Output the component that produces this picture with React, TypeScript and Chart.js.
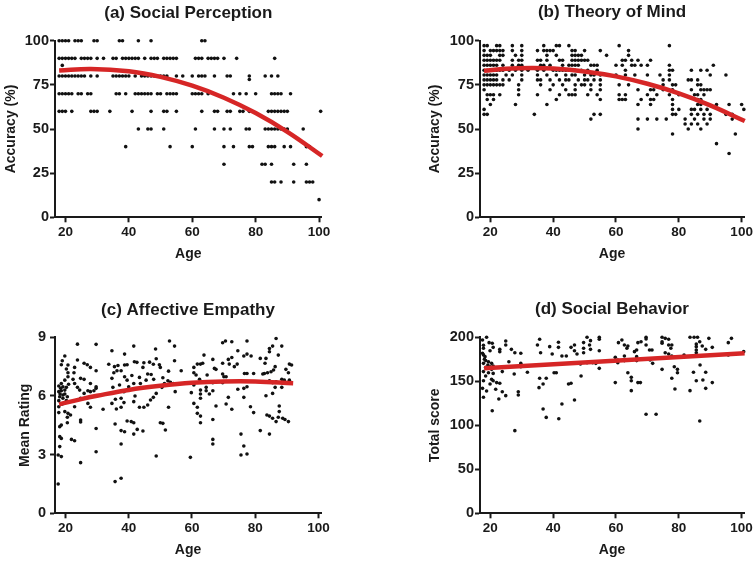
import React, { useEffect, useRef } from "react";
import { Chart, registerables } from "chart.js";
Chart.register(...registerables);

const FONT = "'Liberation Sans', Arial, Helvetica, sans-serif";
const TEXT = "#1a1a1a";
const RED = "rgb(214,38,38)";
const AGE_TICKS = [20, 40, 60, 80, 100];

// ---------- (a) Social Perception: ages at each accuracy level ----------
const sp100 = [18, 19, 20, 21, 23, 24, 25, 29, 30, 37, 38, 43, 47, 63, 64];
const sp90 = [18, 19, 20, 21, 22, 23, 25, 26, 27, 28, 30, 32, 35, 36, 38, 39, 40, 41, 42, 43, 45, 47, 48, 49, 51, 52, 53, 54, 55, 61, 62, 63, 65, 66, 67, 68, 70, 74, 86];
const sp80 = [18, 19, 20, 21, 22, 23, 24, 25, 26, 28, 30, 35, 36, 37, 38, 39, 40, 42, 44, 45, 46, 47, 48, 49, 50, 51, 52, 55, 57, 60, 62, 63, 64, 67, 71, 72, 78, 83, 85, 87];
const sp70 = [18, 19, 20, 21, 22, 24, 25, 27, 28, 36, 37, 39, 42, 43, 44, 45, 46, 47, 49, 50, 52, 53, 54, 55, 60, 61, 62, 63, 65, 73, 75, 77, 80, 85, 86, 87, 88, 91];
const sp60 = [18, 19, 20, 22, 28, 29, 30, 34, 41, 47, 51, 52, 55, 63, 67, 68, 71, 72, 75, 76, 78, 84, 85, 86, 87, 88, 89, 90, 100.5];
const sp50 = [43, 46, 47, 51, 61, 67, 70, 72, 77, 78, 83, 84, 85, 86, 87, 88, 89, 90, 95];
const sp40 = [39, 53, 60, 70, 73, 78, 79, 84, 85, 86, 89, 91, 96, 97];
const sp30 = [70, 82, 83, 85, 92, 96];
const sp20 = [85, 86, 88, 92, 96, 97, 98];
const sp10 = [100];
const spExtra: [number, number][] = [[19, 86], [78, 78]];
const spFitAge = [18, 28, 40, 50, 60, 70, 80, 90, 101];
const spFitVal = [83.1, 84, 82.7, 79.5, 74.5, 67.7, 59, 48.4, 34.7];

// ---------- (b) Theory of Mind: ages at each accuracy level ----------
const tom972 = [18, 19, 22, 23, 27, 30, 37, 41, 42, 45, 61, 77];
const tom944 = [18, 20, 21, 22, 23, 24, 27, 30, 35, 37, 38, 39, 40, 46, 47, 50, 55, 64];
const tom917 = [18, 19, 20, 23, 24, 28, 30, 38, 41, 46, 47, 48, 49, 57, 64];
const tom889 = [18, 19, 20, 21, 22, 23, 27, 29, 30, 35, 36, 38, 42, 43, 46, 47, 48, 49, 50, 51, 62, 63, 65, 67, 71];
const tom861 = [18, 19, 20, 21, 22, 24, 27, 29, 30, 36, 37, 39, 43, 45, 46, 47, 48, 52, 53, 54, 60, 62, 65, 66, 68, 70, 77, 91];
const tom833 = [18, 19, 20, 21, 22, 23, 24, 26, 28, 30, 32, 35, 37, 40, 41, 42, 43, 44, 45, 47, 49, 51, 54, 63, 77, 78, 84, 87, 89];
const tom806 = [18, 19, 20, 21, 22, 25, 27, 30, 35, 38, 41, 44, 46, 47, 50, 52, 53, 55, 60, 63, 66, 70, 74, 77, 90, 95];
const tom778 = [18, 19, 20, 21, 22, 24, 26, 30, 35, 36, 39, 42, 44, 45, 48, 50, 51, 53, 55, 75, 77, 83, 84, 86];
const tom750 = [18, 19, 20, 21, 22, 23, 24, 29, 36, 40, 43, 47, 49, 50, 52, 55, 61, 64, 75, 78, 79, 86, 87];
const tom722 = [18, 29, 39, 44, 47, 52, 55, 67, 71, 72, 75, 78, 84, 87, 88, 89, 90];
const tom694 = [19, 20, 21, 23, 29, 35, 42, 45, 46, 47, 51, 54, 61, 63, 70, 73, 77, 80, 85, 86, 88];
const tom667 = [19, 21, 41, 55, 61, 62, 63, 68, 71, 72, 78, 86, 87];
const tom639 = [20, 28, 38, 67, 71, 78, 86, 87, 92, 96, 100];
const tom611 = [18, 78, 80, 84, 85, 87, 89, 100.7];
const tom583 = [18, 19, 34, 53, 55, 78, 79, 84, 86, 88, 90, 95, 97];
const tom556 = [52, 67, 70, 73, 76, 82, 85, 88, 90, 97];
const tom528 = [82, 84, 86, 89];
const tom500 = [67, 83, 87];
const tom472 = [78, 98];
const tom417 = [92];
const tom361 = [96];
const tomFitAge = [18, 25, 33, 40, 50, 60, 70, 80, 90, 101];
const tomFitVal = [83.0, 84.1, 84.5, 84.2, 82.6, 79.8, 75.6, 70.2, 63.4, 54.5];

// ---------- (c) Affective Empathy: [age, mean rating] ----------
const aePoints: [number, number][] = [
  [23.8, 8.65], [29.7, 8.64], [34.7, 8.31], [41.6, 8.55], [48.5, 8.4], [52.9, 8.81], [54.5, 8.55], [38.7, 8.14],
  [19.8, 8.04], [19.0, 7.8], [18.7, 7.6], [20.8, 7.58], [23.8, 7.84], [25.9, 7.67], [26.9, 7.6], [27.9, 7.46],
  [29.7, 7.29], [33.7, 7.62], [35.5, 7.5], [36.6, 7.56], [35.3, 7.19], [36.3, 7.29], [38.7, 7.58], [39.5, 7.6],
  [41.8, 7.75], [42.6, 7.72], [44.8, 7.7], [46.6, 7.73], [47.8, 7.62], [48.7, 7.9], [49.7, 7.6], [50.0, 7.46],
  [44.5, 7.46], [46.0, 7.12], [47.1, 7.1], [47.9, 6.85], [45.5, 6.81], [43.4, 6.95], [41.0, 7.05], [43.7, 6.64],
  [41.6, 6.64], [39.5, 6.81], [38.7, 6.98], [37.6, 7.29], [34.7, 6.9], [35.0, 6.44], [37.1, 6.56], [38.5, 6.22],
  [40.0, 6.47], [37.6, 5.88], [35.8, 5.83], [34.7, 5.62], [36.1, 5.33], [37.6, 5.42], [38.5, 5.66], [41.6, 5.71],
  [42.0, 6.0], [43.4, 5.42], [44.8, 5.42], [46.0, 5.54], [46.9, 5.79], [47.8, 5.93], [48.7, 6.13], [50.5, 6.44],
  [51.3, 6.64], [52.4, 6.78], [53.2, 6.7], [54.2, 6.64], [54.7, 6.22], [50.8, 6.93], [52.6, 7.27], [52.6, 5.42],
  [50.0, 4.63], [50.8, 4.6], [51.6, 4.26], [39.5, 4.72], [40.8, 4.69], [41.6, 4.63], [42.7, 4.29], [44.5, 4.21],
  [41.6, 4.05], [38.7, 4.17], [37.6, 4.23], [35.7, 4.57], [37.6, 3.54], [48.7, 2.93], [35.7, 1.62], [37.6, 1.79],
  [29.7, 4.34], [29.7, 3.15], [24.8, 2.59], [21.9, 3.78], [22.9, 3.71], [17.7, 1.5], [18.2, 3.41], [17.7, 2.98],
  [18.7, 2.9], [18.2, 3.92], [18.7, 3.83], [18.2, 4.43], [18.7, 4.51], [20.6, 4.63], [20.6, 4.91], [21.6, 5.03],
  [24.8, 4.77], [24.8, 4.67], [20.8, 5.11], [19.8, 5.2], [17.9, 5.15], [17.9, 5.45], [22.9, 5.45], [27.1, 5.62],
  [27.9, 5.42], [31.9, 5.32], [24.8, 5.88], [25.9, 6.13], [27.1, 6.27], [27.9, 6.22], [29.0, 6.27], [29.7, 6.39],
  [29.7, 6.47], [27.9, 6.64], [25.9, 6.85], [24.8, 6.9], [22.7, 7.19], [22.4, 6.85], [22.9, 6.64], [23.8, 6.44],
  [24.5, 6.3], [20.8, 6.98], [19.8, 6.81], [18.7, 6.64], [17.9, 6.51], [19.2, 6.47], [20.3, 6.44], [18.7, 6.27],
  [19.8, 6.1], [18.2, 5.96], [19.2, 5.88], [20.3, 5.76], [17.9, 5.76], [19.0, 5.59], [17.9, 6.22], [19.8, 6.3],
  [20.6, 5.96], [19.2, 6.05], [18.5, 6.39], [20.8, 7.19], [20.3, 7.38], [22.9, 7.46], [21.0, 6.6], [18.3, 6.1],
  [69.7, 8.72], [70.6, 8.81], [72.6, 8.77], [77.4, 8.81], [86.6, 8.94], [84.5, 8.43], [85.5, 8.55], [88.4, 8.55],
  [84.5, 8.26], [74.5, 8.31], [76.4, 8.04], [77.4, 8.14], [78.7, 8.04], [81.6, 7.92], [83.4, 7.92], [87.3, 8.09],
  [63.8, 8.09], [63.4, 7.67], [62.7, 7.63], [60.6, 7.46], [61.7, 7.63], [66.6, 7.87], [69.7, 7.67], [71.5, 7.87],
  [72.6, 7.97], [71.8, 7.63], [74.3, 7.63], [73.4, 7.5], [67.1, 7.41], [67.6, 7.36], [64.8, 7.07], [60.6, 7.19],
  [61.3, 7.07], [62.4, 6.85], [69.7, 7.12], [70.1, 6.98], [70.8, 6.98], [76.6, 7.15], [77.4, 7.15], [79.5, 7.15],
  [82.4, 7.12], [82.9, 7.15], [83.9, 7.19], [85.0, 7.24], [85.8, 7.33], [86.3, 7.5], [83.1, 7.67], [89.7, 7.36],
  [90.5, 7.19], [90.8, 7.63], [91.5, 7.58], [54.5, 7.8], [56.6, 7.29], [60.6, 6.64], [60.6, 6.56], [66.6, 6.68],
  [69.7, 6.68], [84.5, 6.78], [85.5, 6.68], [86.6, 6.73], [88.4, 6.85], [89.2, 6.81], [90.8, 6.81], [86.3, 6.44],
  [88.4, 6.44], [62.7, 6.3], [59.8, 6.17], [62.7, 6.1], [64.5, 6.44], [64.5, 6.27], [65.5, 6.1], [66.6, 6.27],
  [74.5, 6.34], [76.4, 6.39], [77.4, 6.47], [71.5, 5.93], [62.7, 5.88], [76.4, 5.93], [83.4, 6.01], [85.5, 6.13],
  [60.6, 5.62], [61.7, 5.42], [61.7, 5.11], [62.7, 4.97], [62.7, 4.63], [67.6, 5.49], [70.8, 5.59], [72.6, 5.32],
  [66.6, 4.8], [78.5, 5.45], [79.5, 5.15], [83.7, 5.03], [84.5, 4.97], [85.5, 4.86], [86.6, 4.69], [87.3, 4.91],
  [87.6, 5.49], [87.6, 5.2], [88.7, 4.86], [89.4, 4.8], [90.5, 4.69], [81.6, 4.23], [84.5, 4.05], [66.6, 3.78],
  [66.6, 3.54], [75.5, 4.05], [76.4, 3.44], [75.5, 2.98], [77.4, 3.03], [59.5, 2.86],
];
const aeFitAge = [18, 25, 30, 40, 50, 60, 70, 80, 92];
const aeFitVal = [5.57, 5.84, 6.01, 6.31, 6.52, 6.67, 6.74, 6.74, 6.65];

// ---------- (d) Social Behavior: [age, total score] ----------
const sbPoints: [number, number][] = [
  [18.8, 200], [17.5, 197], [17.8, 191], [17.8, 187.5], [17.5, 181.8], [17.8, 180], [18.3, 178], [18.1, 175],
  [18.5, 173.5], [17.8, 170.4], [19.2, 168.5], [19.4, 172.3], [20.4, 170.4], [19.9, 166.6], [18.5, 165.9], [20.4, 163.6],
  [20.9, 167.4], [17.8, 161], [19.4, 159.8], [20.9, 159], [18.5, 156], [20.4, 152.2], [17.8, 150.7], [20.9, 150.7],
  [22.0, 148.5], [23.0, 147.7], [19.9, 147], [17.5, 142], [21.7, 140.9], [18.8, 139], [23.8, 138.2], [17.8, 131.8],
  [22.7, 129.9], [24.9, 133.7], [20.6, 116.6], [27.8, 93.9], [19.6, 193.9], [20.6, 193.2], [20.9, 188.6], [19.9, 184.8],
  [23.0, 186.3], [23.0, 183.7], [24.9, 195.8], [24.9, 191.3], [26.7, 186.3], [27.8, 182.5], [29.7, 181.8], [25.9, 172.3],
  [23.8, 161], [27.6, 158.3], [29.7, 170.4], [29.7, 166.6], [31.8, 160.2], [28.9, 138.2], [28.9, 134.5], [35.0, 191.3],
  [35.7, 197.7], [36.0, 182.5], [35.7, 153.4], [35.5, 142.8], [36.8, 147], [37.8, 153.4], [36.8, 118.5], [37.8, 109],
  [38.9, 189.4], [39.7, 181], [41.7, 194.3], [41.7, 188.6], [42.8, 178.8], [40.3, 159.8], [41.0, 159.8], [42.8, 124.2],
  [41.8, 107.5], [44.9, 147], [45.7, 147.7], [44.2, 178.8], [45.7, 188.6], [46.8, 191.3], [46.8, 184.8], [47.6, 181],
  [46.8, 128.8], [48.7, 169.7], [48.9, 156], [49.7, 194], [49.7, 187.5], [49.7, 182.5], [50.8, 200], [51.9, 196.2],
  [51.6, 191.3], [51.9, 186.3], [50.8, 171.2], [52.6, 171.2], [53.6, 170.4], [54.7, 200], [54.7, 197.7], [54.7, 184.8],
  [54.7, 164.7], [59.8, 177.2], [59.8, 148.5], [60.8, 193.9], [61.9, 197], [60.6, 174.2], [60.6, 171.2], [62.7, 191.3],
  [63.8, 190.1], [63.5, 187.5], [62.7, 178.8], [62.7, 173.5], [63.8, 159.8], [64.9, 154.5], [64.9, 150.7], [64.9, 139.4],
  [65.9, 183.7], [66.6, 185.6], [66.6, 178], [66.6, 173.5], [67.0, 148.5], [67.8, 148.5], [67.0, 193.9], [68.0, 195],
  [69.6, 200], [69.6, 198], [69.6, 191.3], [70.7, 185.6], [71.5, 185.6], [70.9, 174.2], [71.7, 170.4], [69.6, 112.5],
  [72.8, 112.5], [74.7, 200], [74.7, 195], [74.7, 193.2], [75.7, 198.8], [76.8, 197.7], [76.8, 191.3], [77.8, 191.3],
  [77.5, 187.5], [75.7, 182.5], [76.8, 181], [77.8, 178.8], [74.7, 163.6], [78.6, 166.6], [79.6, 163.6], [79.6, 159.8],
  [77.8, 153.4], [78.8, 141.3], [81.7, 179.9], [83.6, 200], [84.9, 200], [86.0, 200], [85.6, 192.4], [85.6, 189.4],
  [85.6, 185.6], [85.6, 182.5], [86.7, 195], [87.5, 190.1], [88.6, 186.3], [89.6, 198.8], [90.7, 188.6], [86.8, 168.5],
  [84.7, 160.2], [88.6, 160.2], [85.6, 150.7], [87.7, 151.5], [90.7, 148.5], [88.6, 142], [83.6, 139.4], [86.7, 104.9],
  [95.8, 193.9], [96.8, 198.8], [95.8, 179.9], [100.7, 183.7],
];
const sbFitAge = [18, 101];
const sbFitVal = [164.8, 182.0];

type Pt = { x: number; y: number };
const rows = (levels: [number, number[]][]): Pt[] =>
  levels.flatMap(([v, ages]) => ages.map((a) => ({ x: a, y: v })));
const pairs = (p: [number, number][]): Pt[] => p.map(([x, y]) => ({ x, y }));
const zipXY = (xs: number[], ys: number[]): Pt[] => xs.map((x, i) => ({ x, y: ys[i] }));

type PanelCfg = {
  left: number; top: number; width: number; height: number;
  area: { left: number; right: number; top: number; bottom: number };
  title: string; titleCenterY: number;
  yTitle: string; yTitleCenterX: number; yTicks: number[]; yTickPad: number;
  xTitleCenterY: number;
  points: Pt[]; fit: Pt[];
};

const panels: PanelCfg[] = [
  {
    left: 0, top: 0, width: 377, height: 280,
    area: { left: 55, right: 321.6, top: 40.7, bottom: 217.3 },
    title: "(a) Social Perception", titleCenterY: 13.3,
    yTitle: "Accuracy (%)", yTitleCenterX: 11, yTicks: [0, 25, 50, 75, 100], yTickPad: 1,
    xTitleCenterY: 254.3,
    points: [
      ...rows([[100, sp100], [90, sp90], [80, sp80], [70, sp70], [60, sp60], [50, sp50], [40, sp40], [30, sp30], [20, sp20], [10, sp10]]),
      ...pairs(spExtra),
    ],
    fit: zipXY(spFitAge, spFitVal),
  },
  {
    left: 377, top: 0, width: 378, height: 280,
    area: { left: 103, right: 368, top: 40.7, bottom: 217.3 },
    title: "(b) Theory of Mind", titleCenterY: 12.8,
    yTitle: "Accuracy (%)", yTitleCenterX: 58, yTicks: [0, 25, 50, 75, 100], yTickPad: 1,
    xTitleCenterY: 254.3,
    points: rows([
      [97.2, tom972], [94.4, tom944], [91.7, tom917], [88.9, tom889], [86.1, tom861], [83.3, tom833], [80.6, tom806],
      [77.8, tom778], [75.0, tom750], [72.2, tom722], [69.4, tom694], [66.7, tom667], [63.9, tom639], [61.1, tom611],
      [58.3, tom583], [55.6, tom556], [52.8, tom528], [50.0, tom500], [47.2, tom472], [41.7, tom417], [36.1, tom361],
    ]),
    fit: zipXY(tomFitAge, tomFitVal),
  },
  {
    left: 0, top: 280, width: 377, height: 281,
    area: { left: 55, right: 321, top: 57.3, bottom: 233.3 },
    title: "(c) Affective Empathy", titleCenterY: 30.3,
    yTitle: "Mean Rating", yTitleCenterX: 25, yTicks: [0, 3, 6, 9], yTickPad: 4,
    xTitleCenterY: 270,
    points: pairs(aePoints),
    fit: zipXY(aeFitAge, aeFitVal),
  },
  {
    left: 377, top: 280, width: 378, height: 281,
    area: { left: 103, right: 367, top: 57.3, bottom: 233.3 },
    title: "(d) Social Behavior", titleCenterY: 29.5,
    yTitle: "Total score", yTitleCenterX: 58, yTicks: [0, 50, 100, 150, 200], yTickPad: 1,
    xTitleCenterY: 270,
    points: pairs(sbPoints),
    fit: zipXY(sbFitAge, sbFitVal),
  },
];

function buildConfig(p: PanelCfg): any {
  const yMax = p.yTicks[p.yTicks.length - 1];
  const axisTitleFont = { family: FONT, size: 14, weight: "bold" as const, lineHeight: 1.2 };
  const titleLine = 17 * 1.2;
  const titlePadTop = p.titleCenterY - titleLine / 2;
  const titlePadBottom = p.area.top - titleLine - titlePadTop;
  return {
    type: "scatter",
    data: {
      datasets: [
        {
          type: "line",
          data: p.fit,
          borderColor: RED,
          borderWidth: 4.5,
          pointRadius: 0,
          tension: 0.4,
          fill: false,
          clip: false,
          borderCapStyle: "butt",
        },
        {
          type: "scatter",
          data: p.points,
          backgroundColor: "#111",
          borderWidth: 0,
          pointRadius: 1.8,
          pointHoverRadius: 1.8,
          clip: false,
        },
      ],
    },
    options: {
      responsive: false,
      animation: false,
      events: [],
      layout: { padding: { left: 0, top: 0, bottom: 0, right: p.width - p.area.right } },
      plugins: {
        legend: { display: false },
        tooltip: { enabled: false },
        title: {
          display: true,
          text: p.title,
          color: TEXT,
          fullSize: false,
          font: { family: FONT, size: 17, weight: "bold", lineHeight: 1.2 },
          padding: { top: titlePadTop, bottom: titlePadBottom },
        },
      },
      scales: {
        x: {
          type: "linear",
          position: "bottom",
          min: 16.7,
          max: 100.8,
          afterBuildTicks: (s: any) => { s.ticks = AGE_TICKS.map((v) => ({ value: v })); },
          afterFit: (s: any) => { s.height = p.height - p.area.bottom; },
          ticks: { color: TEXT, font: { family: FONT, size: 13.5, weight: "bold" }, padding: 2, maxRotation: 0 },
          grid: { display: true, drawOnChartArea: false, drawTicks: true, tickLength: 5, tickWidth: 2, tickColor: TEXT },
          border: { display: true, color: TEXT, width: 2 },
          title: {
            display: true, text: "Age", color: TEXT, font: axisTitleFont,
            padding: { top: 0, bottom: p.height - p.xTitleCenterY - 14 * 1.2 / 2 },
          },
        },
        y: {
          type: "linear",
          position: "left",
          min: 0,
          max: yMax,
          afterBuildTicks: (s: any) => { s.ticks = p.yTicks.map((v) => ({ value: v })); },
          afterFit: (s: any) => { s.width = p.area.left; },
          ticks: { color: TEXT, font: { family: FONT, size: 14.5, weight: "bold" }, padding: p.yTickPad },
          grid: { display: true, drawOnChartArea: false, drawTicks: true, tickLength: 5, tickWidth: 2, tickColor: TEXT },
          border: { display: true, color: TEXT, width: 2 },
          title: {
            display: true, text: p.yTitle, color: TEXT, font: axisTitleFont,
            padding: { top: p.yTitleCenterX - 14 * 1.2 / 2, bottom: 0 },
          },
        },
      },
    },
  };
}

function Panel({ cfg }: { cfg: PanelCfg }) {
  const ref = useRef<HTMLCanvasElement>(null);
  useEffect(() => {
    const chart = new Chart(ref.current as HTMLCanvasElement, buildConfig(cfg));
    return () => chart.destroy();
  }, [cfg]);
  return (
    <div style={{ position: "absolute", left: cfg.left, top: cfg.top, width: cfg.width, height: cfg.height }}>
      <canvas ref={ref} width={cfg.width} height={cfg.height} style={{ width: cfg.width, height: cfg.height, display: "block" }} />
    </div>
  );
}

export default function App() {
  return (
    <div style={{ position: "fixed", left: 0, top: 0, width: 755, height: 561, background: "#fff", overflow: "hidden" }}>
      {panels.map((p, i) => (
        <Panel key={i} cfg={p} />
      ))}
    </div>
  );
}
